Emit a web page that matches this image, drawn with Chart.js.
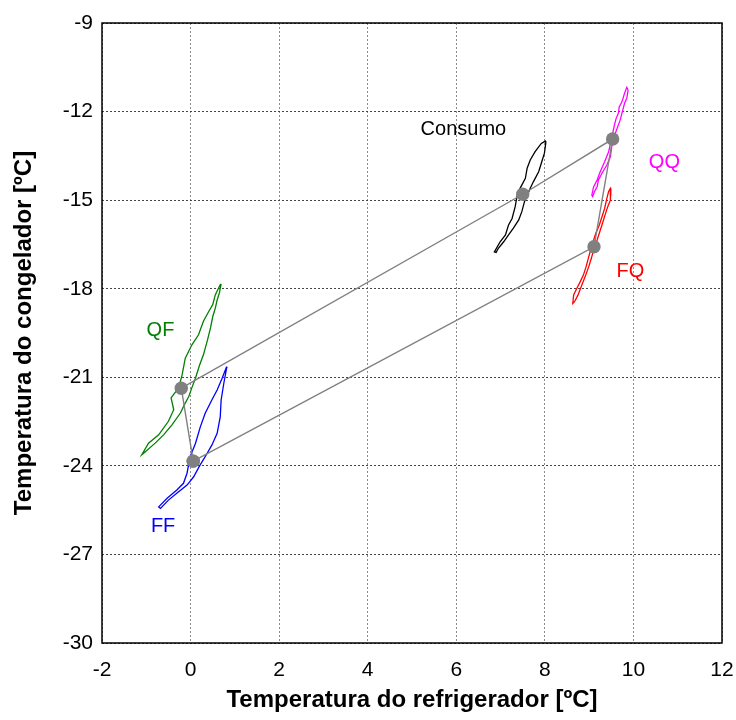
<!DOCTYPE html>
<html>
<head>
<meta charset="utf-8">
<script src="https://cdn.jsdelivr.net/npm/chart.js@4/dist/chart.umd.min.js"></script>
<style>
  html, body { margin: 0; padding: 0; background: #fff; }
</style>
</head>
<body>
<canvas id="chart" width="736" height="720"></canvas>
<script>
// x = refrigerator temperature, y = freezer temperature (°C)
const qfX = [0.69, 0.65, 0.60, 0.56, 0.50, 0.45, 0.38, 0.29, 0.20, 0.11, 0.03, -0.04, -0.13, -0.23, -0.42, -0.61, -0.80, -1.06, -1.10, -0.95, -0.72, -0.50, -0.38, -0.44, -0.27, -0.19, -0.12, 0.03, 0.18, 0.29, 0.41, 0.50, 0.56, 0.67, 0.69];
const qfY = [-17.84, -18.15, -18.38, -18.65, -18.95, -19.33, -19.75, -20.24, -20.60, -21.03, -21.35, -21.65, -21.90, -22.21, -22.61, -22.95, -23.23, -23.57, -23.62, -23.23, -22.95, -22.49, -22.10, -21.70, -21.36, -20.91, -20.35, -19.90, -19.56, -19.10, -18.77, -18.54, -18.20, -17.86, -17.84];

const ffX = [0.82, 0.75, 0.69, 0.67, 0.60, 0.48, 0.33, 0.20, 0.07, -0.08, -0.27, -0.50, -0.68, -0.72, -0.53, -0.31, -0.16, -0.08, -0.01, 0.11, 0.22, 0.33, 0.48, 0.60, 0.71, 0.81, 0.82];
const ffY = [-20.64, -21.21, -21.77, -22.34, -22.90, -23.30, -23.69, -24.01, -24.37, -24.65, -24.88, -25.16, -25.44, -25.39, -25.10, -24.82, -24.59, -24.25, -23.69, -23.24, -22.68, -22.22, -21.77, -21.43, -21.04, -20.66, -20.64];

const consX = [8.02, 7.99, 7.92, 7.86, 7.74, 7.67, 7.54, 7.48, 7.41, 7.29, 7.18, 7.07, 6.95, 6.90, 6.86, 6.99, 7.11, 7.18, 7.26, 7.33, 7.37, 7.44, 7.56, 7.60, 7.67, 7.78, 7.92, 8.01, 8.02];
const consY = [-13.08, -13.41, -13.75, -14.04, -14.38, -14.60, -15.05, -15.39, -15.67, -15.95, -16.18, -16.41, -16.63, -16.77, -16.75, -16.41, -16.18, -15.84, -15.62, -15.22, -14.88, -14.60, -14.26, -13.92, -13.64, -13.36, -13.08, -13.00, -13.08];

const qqX = [9.88, 9.85, 9.80, 9.75, 9.70, 9.63, 9.55, 9.51, 9.48, 9.40, 9.29, 9.21, 9.18, 9.12, 9.08, 9.06, 9.10, 9.18, 9.25, 9.35, 9.44, 9.50, 9.57, 9.61, 9.66, 9.68, 9.74, 9.80, 9.85, 9.88];
const qqY = [-11.27, -11.55, -11.72, -12.00, -12.29, -12.57, -12.91, -13.19, -13.53, -13.81, -14.09, -14.32, -14.55, -14.71, -14.88, -14.83, -14.55, -14.32, -14.04, -13.70, -13.36, -12.96, -12.46, -12.23, -12.06, -11.84, -11.67, -11.38, -11.18, -11.27];

const fqX = [9.49, 9.48, 9.42, 9.36, 9.30, 9.24, 9.18, 9.10, 9.05, 8.99, 8.91, 8.82, 8.75, 8.67, 8.63, 8.65, 8.72, 8.80, 8.87, 8.93, 8.99, 9.08, 9.15, 9.23, 9.29, 9.35, 9.40, 9.44, 9.48, 9.49];
const fqY = [-14.66, -15.00, -15.22, -15.50, -15.79, -16.07, -16.35, -16.69, -16.97, -17.26, -17.59, -17.93, -18.21, -18.44, -18.50, -18.21, -17.99, -17.76, -17.54, -17.26, -16.92, -16.46, -16.12, -15.84, -15.56, -15.28, -14.94, -14.71, -14.60, -14.66];

// mean points, joined in order FF -> QF -> Consumo -> QQ -> FQ -> FF
const meanX = [0.06, -0.21, 7.50, 9.53, 9.11];
const meanY = [-23.84, -21.37, -14.80, -12.93, -16.58];

const labelText = ['QF', 'FF', 'Consumo', 'QQ', 'FQ'];
const labelX = [-0.68, -0.62, 6.16, 10.70, 9.93];
const labelY = [-19.40, -26.07, -12.59, -13.71, -17.40];
const labelColor = ['#008000', '#0000ff', '#000000', '#ff00ff', '#ff0000'];

const toPoints = (xs, ys) => xs.map((x, i) => ({ x, y: ys[i] }));

const FONT = 'Arial, "Liberation Sans", sans-serif';

const loop = (xs, ys, color) => ({
  data: toPoints(xs, ys),
  showLine: true,
  borderColor: color,
  borderWidth: 1.3,
  pointRadius: 0,
  fill: false,
});

const meanPts = toPoints(meanX, meanY);
meanPts.push(meanPts[0]);

const frameAndLabels = {
  id: 'frameAndLabels',
  afterDatasetsDraw(chart) {
    const { ctx, chartArea: a, scales: { x, y } } = chart;
    ctx.save();
    ctx.font = '20px ' + FONT;
    ctx.textAlign = 'center';
    ctx.textBaseline = 'middle';
    labelText.forEach((t, i) => {
      ctx.fillStyle = labelColor[i];
      ctx.fillText(t, x.getPixelForValue(labelX[i]), y.getPixelForValue(labelY[i]));
    });
    ctx.strokeStyle = '#000';
    ctx.lineWidth = 1.5;
    ctx.strokeRect(a.left, a.top, a.right - a.left, a.bottom - a.top);
    ctx.restore();
  },
};

new Chart(document.getElementById('chart'), {
  type: 'scatter',
  data: {
    datasets: [
      {
        data: meanPts,
        showLine: true,
        borderColor: '#808080',
        borderWidth: 1.4,
        pointRadius: 6.7,
        pointBackgroundColor: '#808080',
        pointBorderWidth: 0,
      },
      loop(qfX, qfY, '#008000'),
      loop(ffX, ffY, '#0000ff'),
      loop(consX, consY, '#000000'),
      loop(qqX, qqY, '#ff00ff'),
      loop(fqX, fqY, '#ff0000'),
    ],
  },
  options: {
    responsive: false,
    animation: false,
    layout: { padding: { left: 0, top: 23, right: 14, bottom: 0 } },
    plugins: { legend: { display: false }, tooltip: { enabled: false } },
    scales: {
      x: {
        type: 'linear',
        min: -2,
        max: 12,
        ticks: { stepSize: 2, color: '#000', padding: 15, font: { family: FONT, size: 21 } },
        grid: { color: '#8c8c8c', lineWidth: 1, drawTicks: false },
        border: { display: false, dash: [2, 2] },
        title: {
          display: true,
          text: 'Temperatura do refrigerador [ºC]',
          color: '#000',
          font: { family: FONT, size: 24, weight: 'bold' },
          padding: { top: 0, bottom: 5 },
        },
        afterFit: (s) => {
          s.height = 77;
          s.paddingLeft = 0;
          s.paddingRight = 0;
        },
      },
      y: {
        type: 'linear',
        min: -30,
        max: -9,
        ticks: { stepSize: 3, color: '#000', padding: 9, font: { family: FONT, size: 21 } },
        grid: { color: '#444', lineWidth: 1, drawTicks: false },
        border: { display: false, dash: [2, 2] },
        title: {
          display: true,
          text: 'Temperatura do congelador [ºC]',
          color: '#000',
          font: { family: FONT, size: 24, weight: 'bold' },
          padding: { top: 10, bottom: 0 },
        },
        afterFit: (s) => {
          s.width = 102;
          s.paddingTop = 0;
          s.paddingBottom = 0;
        },
      },
    },
  },
  plugins: [frameAndLabels],
});
</script>
</body>
</html>
